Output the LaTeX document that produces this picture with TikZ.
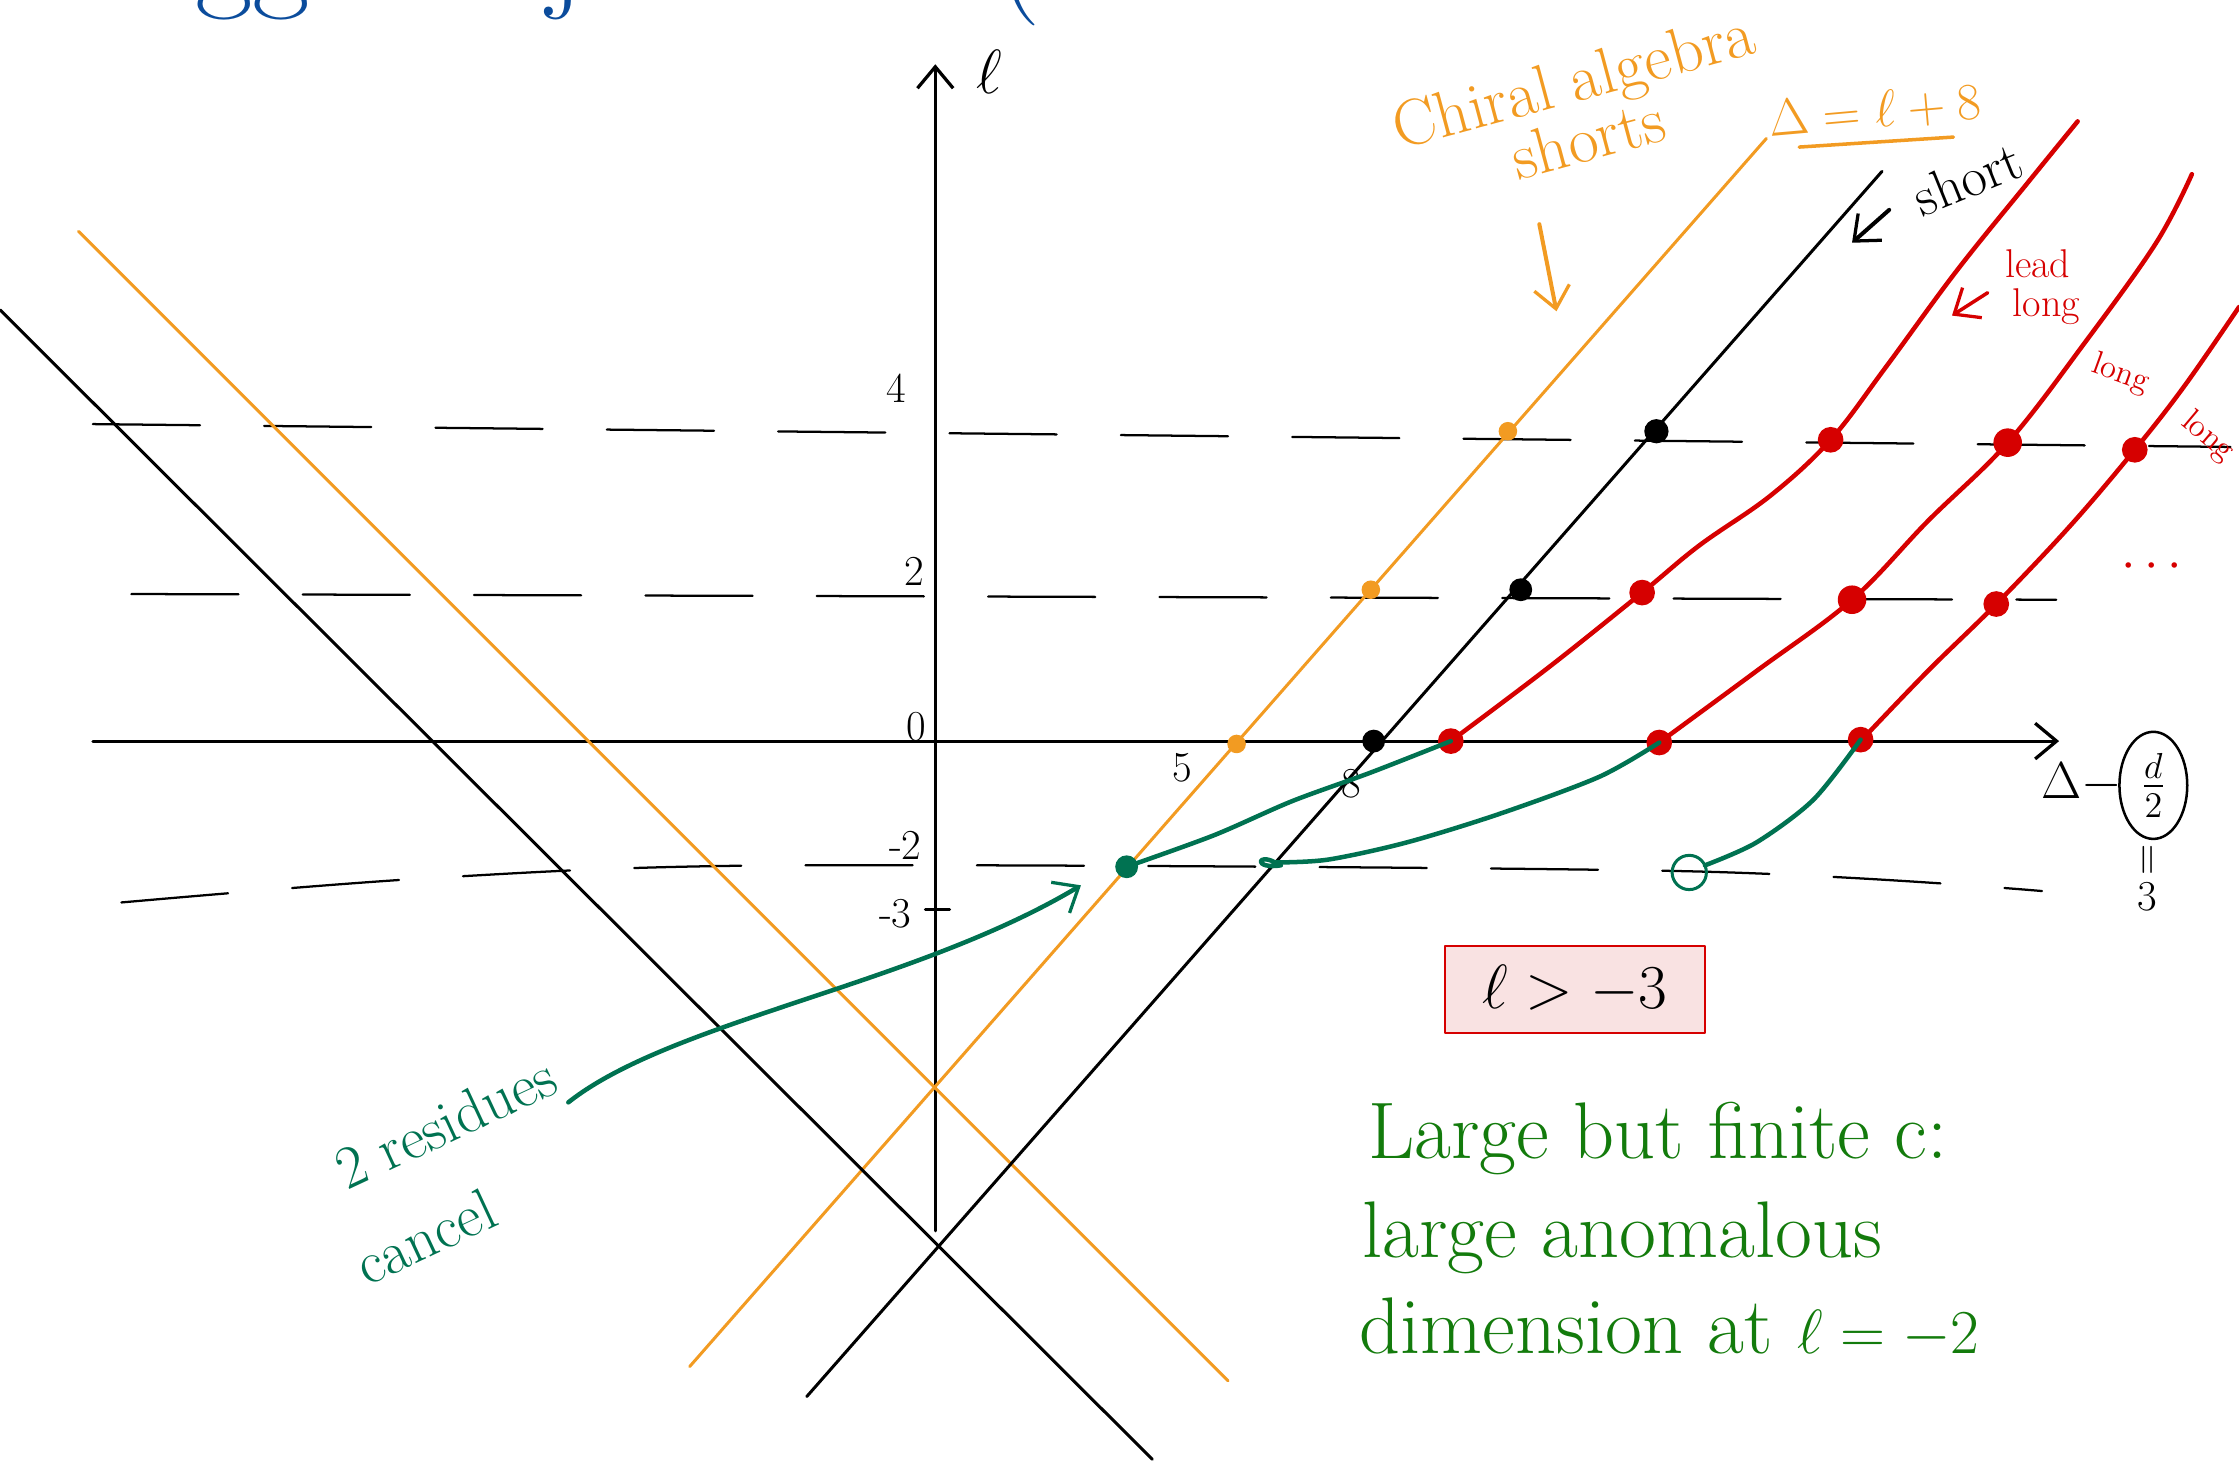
\documentclass[tikz,border=0pt]{standalone}
\usepackage{amsmath,amssymb}
\usepackage{tikz}
\usepackage{color}
\usetikzlibrary{arrows.meta,shapes.geometric}
\definecolor{chorange}{HTML}{F29B22}
\definecolor{lgred}{HTML}{D60000}
\definecolor{resgreen}{HTML}{007251}
\definecolor{txtgreen}{HTML}{137B0C}
\definecolor{titleblue}{HTML}{0B4C9C}
\definecolor{boxpink}{HTML}{F9E2E2}

\begin{document}
\begin{tikzpicture}[x=0.2mm, y=-0.2mm, line cap=round, line join=round,
  barb/.style = {-{Straight Barb[length=3mm, width=5mm, line width=1.3pt]}},
  axis/.style = {line width=1.2pt, barb},
  level/.style = {line width=0.9pt, dash pattern=on 15mm off 9mm},
  orng/.style = {chorange, line width=1.2pt},
  blk/.style = {black, line width=1.2pt},
  redc/.style = {lgred, line width=1.8pt},
  resc/.style = {resgreen, line width=1.8pt},
  dot/.style = {circle, fill, inner sep=0pt, minimum size=#1},
  num/.style = {font=\fontsize{17}{20}\selectfont},
  note/.style = {text=txtgreen, anchor=west, font=\fontsize{32}{38}\selectfont}]
\useasboundingbox (0,0) rectangle (1568,1025);
\node[anchor=base west, text=titleblue, font=\fontsize{50}{54}\selectfont] (title) at (35,-4) {Regge trajectories (};
\coordinate (xa) at (65,519); \coordinate (xb) at (1442,519); \coordinate (ya) at (655,862); \coordinate (yb) at (655,45);
\draw[axis] (xa) -- (xb); \draw[axis] (ya) -- (yb);
\draw[level] (65,297) -- (1562,313);
\draw[level] (92,416) -- (1440,420);
\draw[level] plot[smooth] coordinates {(85,632) (300,615) (550,606) (1175,610) (1430,624)};
\draw[line width=1.2pt] (648,637) -- (665,637);
\node[num] (l4) at (628,272) {4}; \node[num] (l2) at (640,400) {2}; \node[num] (l0) at (642,509) {0}; \node[num] (lm2) at (634,592) {-2}; \node[num] (lm3) at (627,640) {-3};
\node[num] (d5) at (828,538) {5}; \node[num] (d8) at (946,549) {8};
\node[font=\fontsize{26}{30}\selectfont] (ell) at (693,50) {$\ell$};
\node[font=\fontsize{22}{26}\selectfont] (dlt) at (1458,548) {$\Delta-$};
\node[ellipse, draw, line width=1pt, inner sep=0pt, minimum width=9.5mm, minimum height=15mm, font=\fontsize{20}{24}\selectfont] (half) at (1508,550) {$\frac{d}{2}$};
\node[rotate=90, num] (eq) at (1506,602) {$=$}; \node[num] (three) at (1504,628) {3};
\coordinate (oa) at (483,957); \coordinate (ob) at (1237,97); \coordinate (oc) at (55,162); \coordinate (od) at (860,967);
\draw[orng] (oa) -- (ob); \draw[orng] (oc) -- (od);
\coordinate (ka) at (565,978); \coordinate (kb) at (1318,120); \coordinate (kc) at (0,217); \coordinate (kd) at (807,1022);
\draw[blk] (ka) -- (kb); \draw[blk] (kc) -- (kd);
\draw[redc] plot[smooth, tension=0.6] coordinates {(1016,519) (1085,467) (1150,415) (1190,382) (1240,347) (1282,308) (1320,258) (1370,190) (1420,128) (1455,85)};
\draw[redc] plot[smooth, tension=0.6] coordinates {(1162,520) (1230,470) (1297,420) (1350,365) (1406,310) (1460,240) (1510,170) (1535,122)};
\draw[redc] plot[smooth, tension=0.6] coordinates {(1303,519) (1350,470) (1398,423) (1450,368) (1495,315) (1530,270) (1568,215)};
\node[dot=2.6mm, chorange] (o1) at (866,521) {}; \node[dot=2.6mm, chorange] (o2) at (960,413) {}; \node[dot=2.6mm, chorange] (o3) at (1056,302) {};
\node[dot=3.2mm] (k1) at (962,519) {}; \node[dot=3.2mm] (k2) at (1065,413) {}; \node[dot=3.4mm] (k3) at (1160,302) {};
\node[dot=3.6mm, lgred] (r1) at (1016,519) {}; \node[dot=3.6mm, lgred] (r2) at (1150,415) {}; \node[dot=3.6mm, lgred] (r3) at (1282,308) {};
\node[dot=3.6mm, lgred] (r4) at (1162,520) {}; \node[dot=4mm, lgred] (r5) at (1297,420) {}; \node[dot=4mm, lgred] (r6) at (1406,310) {};
\node[dot=3.6mm, lgred] (r7) at (1303,518) {}; \node[dot=3.6mm, lgred] (r8) at (1398,423) {}; \node[dot=3.6mm, lgred] (r9) at (1495,315) {};
\node[dot=3.2mm, resgreen] (g0) at (789,607) {};
\node[circle, draw=resgreen, line width=1.2pt, minimum size=4.8mm, inner sep=0pt] (g1) at (1183,611) {};
\draw[resc] plot[smooth] coordinates {(r1.center) (960,541) (905,561) (850,585) (g0.center)};
\draw[resc] plot[smooth] coordinates {(r4.center) (1120,544) (1050,570) (985,590) (930,602) (893,604)};
\draw[resc] (893,604) .. controls (880,597) and (878,609) .. (897,606);
\draw[resc] plot[smooth] coordinates {(r7.center) (1270,560) (1230,590) (1194,606)};
\node[rotate=25, text=resgreen, font=\fontsize{24}{28}\selectfont] (res) at (312,786) {2 residues};
\node[rotate=25, text=resgreen, font=\fontsize{24}{28}\selectfont] (can) at (298,866) {cancel};
\coordinate (ga) at (398,772); \coordinate (gb) at (757,620);
\draw[resc, barb] (ga) .. controls (470,715) and (640,690) .. (gb);
\node[note] (n1) at (952,797) {Large but finite c:}; \node[note] (n2) at (948,867) {large anomalous}; \node[note] (n3) at (946,930) {dimension at $\ell=-2$};
\node[draw=lgred, fill=boxpink, line width=1.1pt, minimum width=36.4mm, minimum height=12.2mm, font=\fontsize{28}{32}\selectfont] (bnd) at (1103,693) {$\ell>-3$};
\node[rotate=15, text=chorange, font=\fontsize{26}{30}\selectfont] (chi) at (1103,60) {Chiral algebra}; \node[rotate=15, text=chorange, font=\fontsize{26}{30}\selectfont] (shs) at (1112,97) {shorts};
\coordinate (oarr1) at (1078,157); \coordinate (oarr2) at (1090,218);
\draw[orng, line width=1.6pt, barb] (oarr1) -- (oarr2);
\node[text=chorange, rotate=5, font=\fontsize{20}{24}\selectfont] (rel) at (1313,78) {$\Delta=\ell+8$};
\draw[chorange, line width=1.4pt] (1260,103) -- (1368,96);
\node[rotate=22, font=\fontsize{22}{26}\selectfont] (sht) at (1378,125) {short};
\coordinate (karr1) at (1323,147); \coordinate (karr2) at (1297,170);
\draw[line width=1.6pt, barb] (karr1) -- (karr2);
\node[text=lgred, font=\fontsize{16}{19}\selectfont] (lead) at (1427,185) {lead}; \node[text=lgred, font=\fontsize{16}{19}\selectfont] (lg1) at (1433,215) {long};
\coordinate (rarr1) at (1392,205); \coordinate (rarr2) at (1367,221);
\draw[lgred, line width=1.4pt, barb] (rarr1) -- (rarr2);
\node[text=lgred, rotate=-20, font=\fontsize{13}{16}\selectfont] (lg2) at (1485,262) {long}; \node[text=lgred, rotate=-40, font=\fontsize{13}{16}\selectfont] (lg3) at (1546,306) {long};
\node[text=lgred, font=\fontsize{22}{26}\selectfont] (more) at (1510,397) {$\cdots$};
\end{tikzpicture}
\end{document}
